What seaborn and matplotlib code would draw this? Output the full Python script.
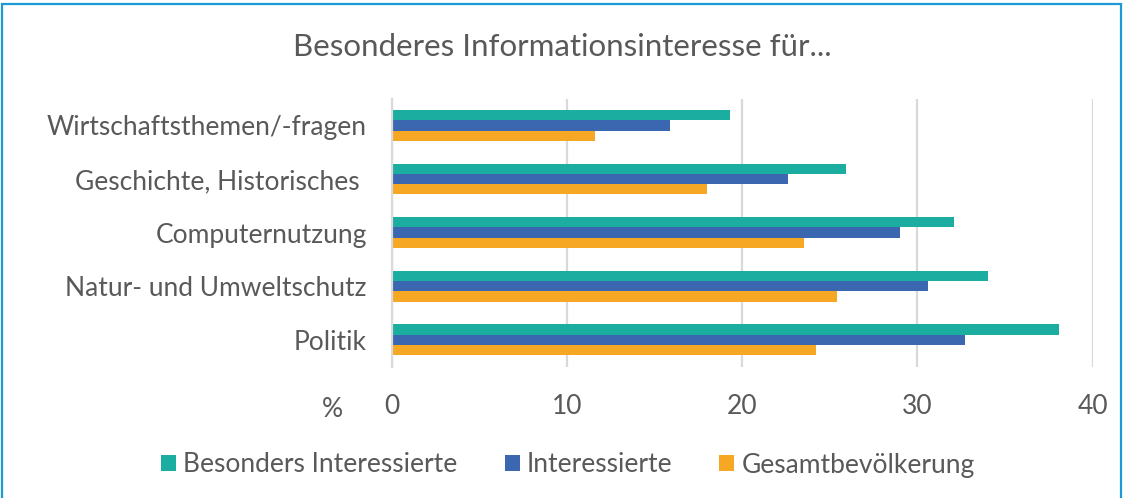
import matplotlib
matplotlib.use("Agg")
import matplotlib.pyplot as plt
from matplotlib.patches import Patch, Rectangle
import pandas as pd
import seaborn as sns

themen = ["Wirtschaftsthemen/-fragen", "Geschichte, Historisches ", "Computernutzung",
          "Natur- und Umweltschutz", "Politik"]
gruppen = ["Besonders Interessierte", "Interessierte", "Gesamtbevölkerung"]
besonders = [19.3, 25.9, 32.1, 34.0, 38.1]
interessierte = [15.9, 22.6, 29.0, 30.6, 32.7]
gesamt = [11.6, 18.0, 23.5, 25.4, 24.2]
farben = ["#1BAEA0", "#3A67B0", "#F6A824"]
xticks = [0, 10, 20, 30, 40]

rows = []
for g, vals in zip(gruppen, [besonders, interessierte, gesamt]):
    for t, v in zip(themen, vals):
        rows.append({"Thema": t, "Gruppe": g, "Wert": v})
df = pd.DataFrame(rows)

sns.set_theme(style="white")
plt.rcParams["font.family"] = ["Lato", "DejaVu Sans"]
grau = "#595959"

fig = plt.figure(figsize=(11.25, 4.98), dpi=100)
ax = fig.add_axes([0.3482, 0.2639, 0.9713 - 0.3482, 0.802 - 0.2639])

sns.barplot(data=df, y="Thema", x="Wert", hue="Gruppe", order=themen,
            hue_order=gruppen, palette=farben, orient="h", width=0.573,
            saturation=1, linewidth=0, legend=False, ax=ax)

ax.set_xlim(0, 40)
ax.set_xticks(xticks)
ax.set_xlabel("")
ax.set_ylabel("")
for s in ["top", "right", "bottom"]:
    ax.spines[s].set_visible(False)
ax.spines["left"].set_color("#D9D9D9")
ax.spines["left"].set_linewidth(1.6)
ax.grid(axis="x", color="#D9D9D9", linewidth=1.6)
ax.set_axisbelow(True)
ax.tick_params(axis="both", length=0, labelsize=19, colors=grau)
ax.tick_params(axis="y", pad=18)
ax.tick_params(axis="x", pad=20)

fig.text(0.5, 0.906, "Besonderes Informationsinteresse für...", ha="center",
         va="center", fontsize=22.5, color=grau)
fig.text(332 / 1125, 1 - 409 / 498, "%", ha="center", va="center",
         fontsize=19, color=grau)

handles = [Patch(facecolor=c, edgecolor="none") for c in farben]
fig.legend(handles, gruppen, loc="center", bbox_to_anchor=(568 / 1125, 1 - 465 / 498),
           ncol=3, frameon=False, fontsize=19, labelcolor=grau,
           handlelength=0.57, handleheight=0.57, handletextpad=0.27, columnspacing=1.78)

fig.patches.append(Rectangle((2 / 1125, -0.05), 1119 / 1125, 1.05 - 4 / 498,
                             transform=fig.transFigure, fill=False,
                             edgecolor="#1B9AD6", linewidth=1.6))

fig.savefig("out.png", dpi=100)
